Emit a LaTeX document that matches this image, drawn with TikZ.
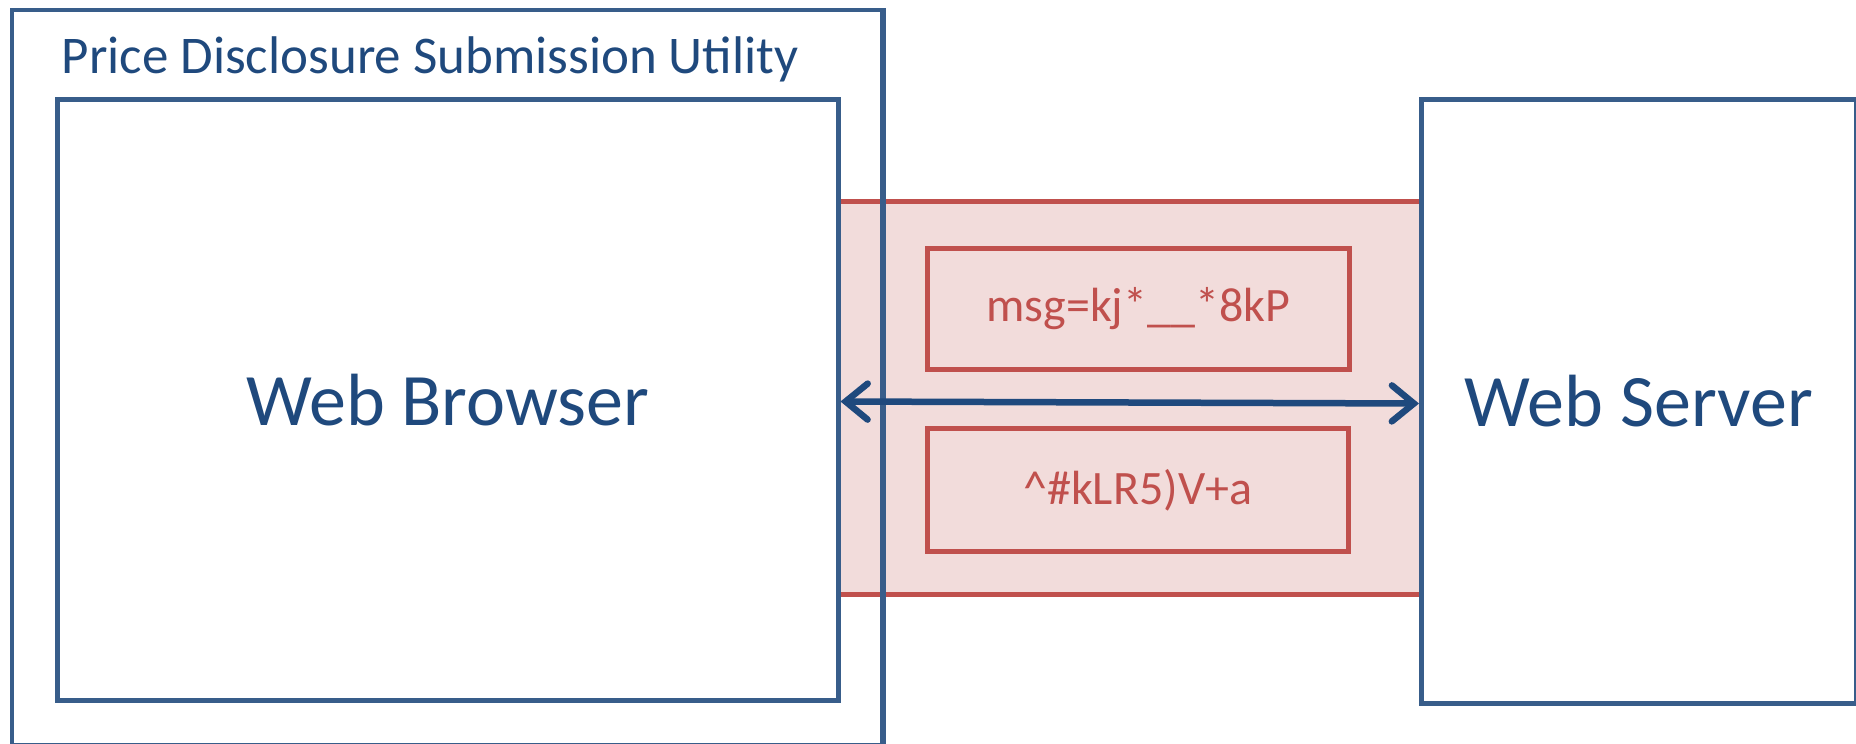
\documentclass[tikz,border=0pt]{standalone}
\usepackage{fontspec}
\setmainfont{Carlito}
\usetikzlibrary{arrows.meta}
\definecolor{boxblue}{HTML}{385D8A}
\definecolor{textblue}{HTML}{1F497D}
\definecolor{redline}{HTML}{C0504D}
\definecolor{redfill}{HTML}{F2DCDB}
\tikzset{
  bluebox/.style={draw=boxblue, line width=5pt, fill=white, rectangle, inner sep=0pt, anchor=north west},
  msgbox/.style={draw=redline, line width=5pt, rectangle, inner sep=0pt, anchor=north west, text=redline, font=\fontsize{48}{56}\selectfont},
  bigtext/.style={text=textblue, font=\fontsize{74}{86}\selectfont},
}
\begin{document}
\begin{tikzpicture}[x=1pt,y=-1pt]
\useasboundingbox (0,0) rectangle (1856,744);
% band
\fill[redfill] (835.7,201) rectangle (1419,594);
\draw[redline, line width=5pt] (835.7,201) -- (1419,201);
\draw[redline, line width=5pt] (835.7,594) -- (1419,594);
% outer box
\node[draw=boxblue, line width=4pt, rectangle, inner sep=0pt, anchor=north west,
      minimum width=870pt, minimum height=734.5pt] (outer) at (9.5,8.3) {};
\node[anchor=base west, text=textblue, font=\fontsize{53}{60}\selectfont, inner sep=0pt] (title) at (61.5,73) {Price Disclosure Submission Utility};
% browser and server
\node[bluebox, minimum width=781pt, minimum height=601pt] (browser) at (54.5,97) {};
\node[bigtext] (browsertext) at (browser.center) {Web Browser};
\node[bluebox, minimum width=434.5pt, minimum height=604pt] (server) at (1419,97) {};
\node[bigtext] (servertext) at (server.center) {Web Server};
% redraw outer right edge over band
\draw[boxblue, line width=4pt] (outer.north east) -- (outer.south east);
% message boxes
\node[msgbox, minimum width=422.5pt, minimum height=121pt] (msg1) at (924.5,246) {msg=kj*\_\_*8kP};
\node[msgbox, minimum width=421.5pt, minimum height=123pt] (msg2) at (924.5,426) {\^{}\#kLR5)V+a};
% arrow
\draw[textblue, line width=6.5pt, {Straight Barb[length=22pt,width=36pt,line cap=round]}-{Straight Barb[length=22pt,width=36pt,line cap=round]}]
  ([yshift=-1.5pt]browser.east) -- ([yshift=-2pt]server.west);
\end{tikzpicture}
\end{document}
